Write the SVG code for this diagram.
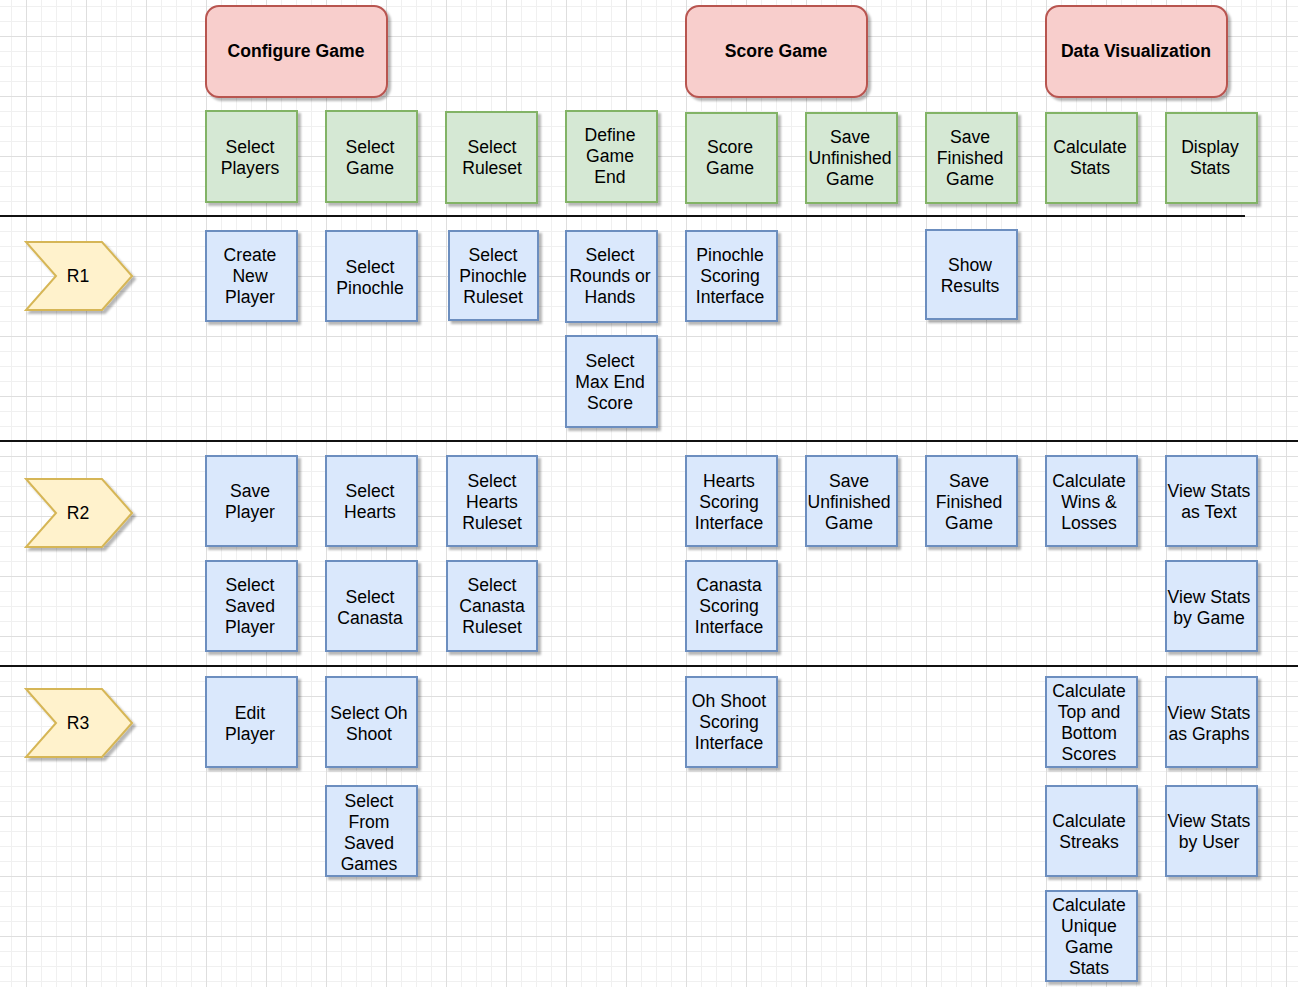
<svg xmlns="http://www.w3.org/2000/svg" width="1298" height="987" viewBox="0 0 1298 987">
  <style>
    text { font-family: "Liberation Sans", Arial, Helvetica, sans-serif; font-size: 17.6px; fill: #000; text-anchor: middle; }
    .bold { font-weight: bold; }
    .epic { fill: #f8cecc; stroke: #b85450; stroke-width: 2; filter: url(#shadow); }
    .activity { fill: #d5e8d4; stroke: #82b366; stroke-width: 2; filter: url(#shadow); }
    .story { fill: #dae8fc; stroke: #6c8ebf; stroke-width: 2; filter: url(#shadow); }
    .release { fill: #fff2cc; stroke: #d6b656; stroke-width: 2; filter: url(#shadow); }
    .sep { stroke: #111; stroke-width: 2; fill: none; }
  </style>
  <defs>
    <pattern id="grid" patternUnits="userSpaceOnUse" x="26" y="36" width="60" height="60">
      <path d="M15.5 0V60M30.5 0V60M45.5 0V60M0 15.5H60M0 30.5H60M0 45.5H60" stroke="#f0f0f0" stroke-width="1" fill="none"/>
      <path d="M0.5 0V60M0 0.5H60" stroke="#dedede" stroke-width="1" fill="none"/>
    </pattern>
    <filter id="shadow" x="-10%" y="-10%" width="130%" height="130%">
      <feGaussianBlur in="SourceAlpha" stdDeviation="0.8"/>
      <feOffset dx="3" dy="3" result="off"/>
      <feFlood flood-color="#000" flood-opacity="0.28"/>
      <feComposite in2="off" operator="in" result="sh"/>
      <feMerge>
        <feMergeNode in="sh"/>
        <feMergeNode in="SourceGraphic"/>
      </feMerge>
    </filter>
  </defs>

  <!-- background grid -->
  <rect x="0" y="0" width="1298" height="987" fill="#ffffff"/>
  <rect x="0" y="0" width="1298" height="987" fill="url(#grid)"/>

  <!-- release separators -->
  <g id="separators">
    <line class="sep" x1="0" y1="216" x2="1245" y2="216"/>
    <line class="sep" x1="0" y1="441" x2="1298" y2="441"/>
    <line class="sep" x1="0" y1="666" x2="1298" y2="666"/>
  </g>

  <!-- no connectors in this map -->
  <g id="connectors"/>

  <!-- epics -->
  <g id="epic-configure-game">
    <rect class="epic" x="206" y="6" width="181" height="91" rx="13"/>
    <text class="bold" x="296" y="57">Configure Game</text>
  </g>
  <g id="epic-score-game">
    <rect class="epic" x="686" y="6" width="181" height="91" rx="13"/>
    <text class="bold" x="776" y="57">Score Game</text>
  </g>
  <g id="epic-data-visualization">
    <rect class="epic" x="1046" y="6" width="181" height="91" rx="13"/>
    <text class="bold" x="1136" y="57">Data Visualization</text>
  </g>

  <!-- activities -->
  <g id="act-select-players">
    <rect class="activity" x="206" y="111" width="91" height="91"/>
    <text x="250" y="153">Select<tspan x="250" dy="21">Players</tspan></text>
  </g>
  <g id="act-select-game">
    <rect class="activity" x="326" y="111" width="91" height="91"/>
    <text x="370" y="153">Select<tspan x="370" dy="21">Game</tspan></text>
  </g>
  <g id="act-select-ruleset">
    <rect class="activity" x="446" y="112" width="91" height="91"/>
    <text x="492" y="153">Select<tspan x="492" dy="21">Ruleset</tspan></text>
  </g>
  <g id="act-define-game-end">
    <rect class="activity" x="566" y="111" width="91" height="91"/>
    <text x="610" y="141">Define<tspan x="610" dy="21">Game</tspan><tspan x="610" dy="21">End</tspan></text>
  </g>
  <g id="act-score-game">
    <rect class="activity" x="686" y="113" width="91" height="90"/>
    <text x="730" y="153">Score<tspan x="730" dy="21">Game</tspan></text>
  </g>
  <g id="act-save-unfinished">
    <rect class="activity" x="806" y="113" width="91" height="90"/>
    <text x="850" y="143">Save<tspan x="850" dy="21">Unfinished</tspan><tspan x="850" dy="21">Game</tspan></text>
  </g>
  <g id="act-save-finished">
    <rect class="activity" x="926" y="113" width="91" height="90"/>
    <text x="970" y="143">Save<tspan x="970" dy="21">Finished</tspan><tspan x="970" dy="21">Game</tspan></text>
  </g>
  <g id="act-calculate-stats">
    <rect class="activity" x="1046" y="113" width="91" height="90"/>
    <text x="1090" y="153">Calculate<tspan x="1090" dy="21">Stats</tspan></text>
  </g>
  <g id="act-display-stats">
    <rect class="activity" x="1166" y="113" width="91" height="90"/>
    <text x="1210" y="153">Display<tspan x="1210" dy="21">Stats</tspan></text>
  </g>

  <!-- releases -->
  <g id="release-r1">
    <polygon class="release" points="26,242 102,242 132,276 102,310 26,310 56,276"/>
    <text x="78" y="282">R1</text>
  </g>
  <g id="release-r2">
    <polygon class="release" points="26,479 102,479 132,513 102,547 26,547 56,513"/>
    <text x="78" y="519">R2</text>
  </g>
  <g id="release-r3">
    <polygon class="release" points="26,689 102,689 132,723 102,757 26,757 56,723"/>
    <text x="78" y="729">R3</text>
  </g>

  <!-- R1 stories -->
  <g id="r1-create-new-player">
    <rect class="story" x="206" y="231" width="91" height="90"/>
    <text x="250" y="261">Create<tspan x="250" dy="21">New</tspan><tspan x="250" dy="21">Player</tspan></text>
  </g>
  <g id="r1-select-pinochle">
    <rect class="story" x="326" y="231" width="91" height="90"/>
    <text x="370" y="273">Select<tspan x="370" dy="21">Pinochle</tspan></text>
  </g>
  <g id="r1-select-pinochle-ruleset">
    <rect class="story" x="449" y="231" width="89" height="89"/>
    <text x="493" y="261">Select<tspan x="493" dy="21">Pinochle</tspan><tspan x="493" dy="21">Ruleset</tspan></text>
  </g>
  <g id="r1-select-rounds-or-hands">
    <rect class="story" x="566" y="231" width="91" height="91"/>
    <text x="610" y="261">Select<tspan x="610" dy="21">Rounds or</tspan><tspan x="610" dy="21">Hands</tspan></text>
  </g>
  <g id="r1-select-max-end-score">
    <rect class="story" x="566" y="336" width="91" height="91"/>
    <text x="610" y="367">Select<tspan x="610" dy="21">Max End</tspan><tspan x="610" dy="21">Score</tspan></text>
  </g>
  <g id="r1-pinochle-scoring">
    <rect class="story" x="686" y="231" width="91" height="90"/>
    <text x="730" y="261">Pinochle<tspan x="730" dy="21">Scoring</tspan><tspan x="730" dy="21">Interface</tspan></text>
  </g>
  <g id="r1-show-results">
    <rect class="story" x="926" y="230" width="91" height="89"/>
    <text x="970" y="271">Show<tspan x="970" dy="21">Results</tspan></text>
  </g>

  <!-- R2 stories -->
  <g id="r2-save-player">
    <rect class="story" x="206" y="456" width="91" height="90"/>
    <text x="250" y="497">Save<tspan x="250" dy="21">Player</tspan></text>
  </g>
  <g id="r2-select-saved-player">
    <rect class="story" x="206" y="561" width="91" height="90"/>
    <text x="250" y="591">Select<tspan x="250" dy="21">Saved</tspan><tspan x="250" dy="21">Player</tspan></text>
  </g>
  <g id="r2-select-hearts">
    <rect class="story" x="326" y="456" width="91" height="90"/>
    <text x="370" y="497">Select<tspan x="370" dy="21">Hearts</tspan></text>
  </g>
  <g id="r2-select-canasta">
    <rect class="story" x="326" y="561" width="91" height="90"/>
    <text x="370" y="603">Select<tspan x="370" dy="21">Canasta</tspan></text>
  </g>
  <g id="r2-select-hearts-ruleset">
    <rect class="story" x="447" y="456" width="90" height="90"/>
    <text x="492" y="487">Select<tspan x="492" dy="21">Hearts</tspan><tspan x="492" dy="21">Ruleset</tspan></text>
  </g>
  <g id="r2-select-canasta-ruleset">
    <rect class="story" x="447" y="561" width="90" height="90"/>
    <text x="492" y="591">Select<tspan x="492" dy="21">Canasta</tspan><tspan x="492" dy="21">Ruleset</tspan></text>
  </g>
  <g id="r2-hearts-scoring">
    <rect class="story" x="686" y="456" width="91" height="90"/>
    <text x="729" y="487">Hearts<tspan x="729" dy="21">Scoring</tspan><tspan x="729" dy="21">Interface</tspan></text>
  </g>
  <g id="r2-canasta-scoring">
    <rect class="story" x="686" y="561" width="91" height="90"/>
    <text x="729" y="591">Canasta<tspan x="729" dy="21">Scoring</tspan><tspan x="729" dy="21">Interface</tspan></text>
  </g>
  <g id="r2-save-unfinished">
    <rect class="story" x="806" y="456" width="91" height="90"/>
    <text x="849" y="487">Save<tspan x="849" dy="21">Unfinished</tspan><tspan x="849" dy="21">Game</tspan></text>
  </g>
  <g id="r2-save-finished">
    <rect class="story" x="926" y="456" width="91" height="90"/>
    <text x="969" y="487">Save<tspan x="969" dy="21">Finished</tspan><tspan x="969" dy="21">Game</tspan></text>
  </g>
  <g id="r2-calculate-wins-losses">
    <rect class="story" x="1046" y="456" width="91" height="90"/>
    <text x="1089" y="487">Calculate<tspan x="1089" dy="21">Wins &amp;</tspan><tspan x="1089" dy="21">Losses</tspan></text>
  </g>
  <g id="r2-view-stats-text">
    <rect class="story" x="1166" y="456" width="91" height="90"/>
    <text x="1209" y="497">View Stats<tspan x="1209" dy="21">as Text</tspan></text>
  </g>
  <g id="r2-view-stats-game">
    <rect class="story" x="1166" y="561" width="91" height="90"/>
    <text x="1209" y="603">View Stats<tspan x="1209" dy="21">by Game</tspan></text>
  </g>

  <!-- R3 stories -->
  <g id="r3-edit-player">
    <rect class="story" x="206" y="677" width="91" height="90"/>
    <text x="250" y="719">Edit<tspan x="250" dy="21">Player</tspan></text>
  </g>
  <g id="r3-select-oh-shoot">
    <rect class="story" x="326" y="677" width="91" height="90"/>
    <text x="369" y="719">Select Oh<tspan x="369" dy="21">Shoot</tspan></text>
  </g>
  <g id="r3-select-saved-games">
    <rect class="story" x="326" y="786" width="91" height="90"/>
    <text x="369" y="807">Select<tspan x="369" dy="21">From</tspan><tspan x="369" dy="21">Saved</tspan><tspan x="369" dy="21">Games</tspan></text>
  </g>
  <g id="r3-oh-shoot-scoring">
    <rect class="story" x="686" y="677" width="91" height="90"/>
    <text x="729" y="707">Oh Shoot<tspan x="729" dy="21">Scoring</tspan><tspan x="729" dy="21">Interface</tspan></text>
  </g>
  <g id="r3-calculate-top-bottom">
    <rect class="story" x="1046" y="677" width="91" height="90"/>
    <text x="1089" y="697">Calculate<tspan x="1089" dy="21">Top and</tspan><tspan x="1089" dy="21">Bottom</tspan><tspan x="1089" dy="21">Scores</tspan></text>
  </g>
  <g id="r3-calculate-streaks">
    <rect class="story" x="1046" y="786" width="91" height="90"/>
    <text x="1089" y="827">Calculate<tspan x="1089" dy="21">Streaks</tspan></text>
  </g>
  <g id="r3-calculate-unique">
    <rect class="story" x="1046" y="891" width="91" height="90"/>
    <text x="1089" y="911">Calculate<tspan x="1089" dy="21">Unique</tspan><tspan x="1089" dy="21">Game</tspan><tspan x="1089" dy="21">Stats</tspan></text>
  </g>
  <g id="r3-view-stats-graphs">
    <rect class="story" x="1166" y="677" width="91" height="90"/>
    <text x="1209" y="719">View Stats<tspan x="1209" dy="21">as Graphs</tspan></text>
  </g>
  <g id="r3-view-stats-user">
    <rect class="story" x="1166" y="786" width="91" height="90"/>
    <text x="1209" y="827">View Stats<tspan x="1209" dy="21">by User</tspan></text>
  </g>
</svg>
